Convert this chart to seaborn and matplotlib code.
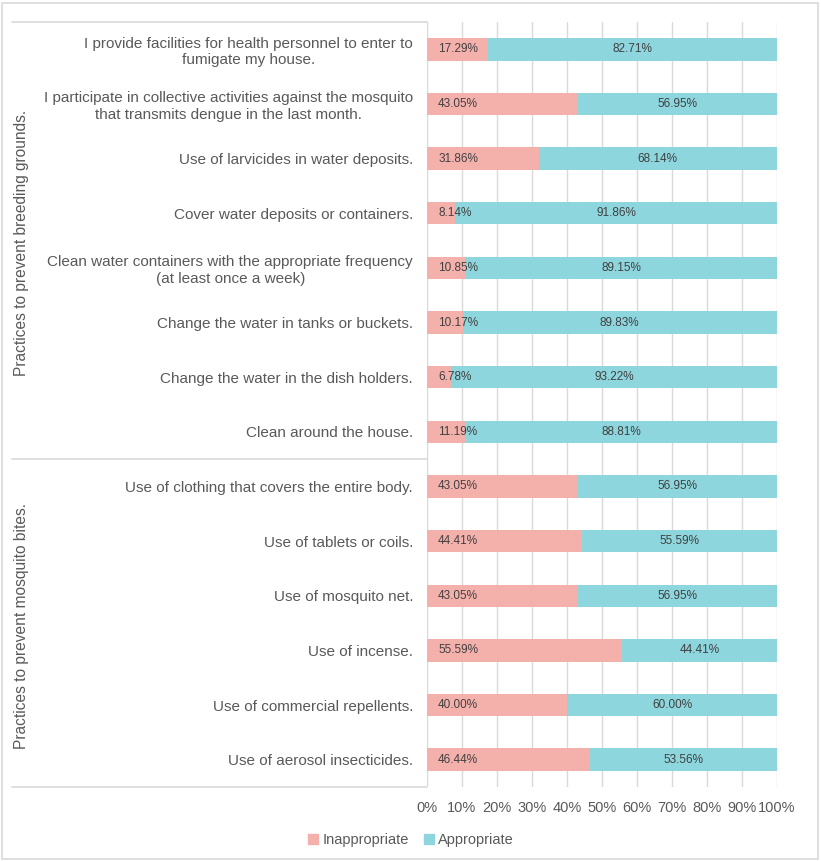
import numpy as np
import pandas as pd
import matplotlib
matplotlib.use("Agg")
import matplotlib.pyplot as plt
import matplotlib.transforms as mtransforms
from matplotlib.patches import Patch, Rectangle
import seaborn as sns

categories = [
    "I provide facilities for health personnel to enter to\nfumigate my house.",
    "I participate in collective activities against the mosquito\nthat transmits dengue in the last month.",
    "Use of larvicides in water deposits.",
    "Cover water deposits or containers.",
    "Clean water containers with the appropriate frequency\n(at least once a week)",
    "Change the water in tanks or buckets.",
    "Change the water in the dish holders.",
    "Clean around the house.",
    "Use of clothing that covers the entire body.",
    "Use of tablets or coils.",
    "Use of mosquito net.",
    "Use of incense.",
    "Use of commercial repellents.",
    "Use of aerosol insecticides.",
]
inappropriate = [17.29, 43.05, 31.86, 8.14, 10.85, 10.17, 6.78, 11.19,
                 43.05, 44.41, 43.05, 55.59, 40.00, 46.44]
appropriate = [82.71, 56.95, 68.14, 91.86, 89.15, 89.83, 93.22, 88.81,
               56.95, 55.59, 56.95, 44.41, 60.00, 53.56]
groups = ["Practices to prevent breeding grounds.",
          "Practices to prevent mosquito bites."]
group_sizes = [8, 6]
x_ticks = list(range(0, 101, 10))

PINK = "#F4B1AC"
TEAL = "#8ED6DD"
GREY = "#D9D9D9"
TEXT = "#595959"

sns.set_style("white")
plt.rcParams["font.family"] = ["Liberation Sans", "DejaVu Sans"]

df = pd.DataFrame({
    "practice": categories,
    "Inappropriate": inappropriate,
    "Appropriate": appropriate,
})
df["total"] = df["Inappropriate"] + df["Appropriate"]

W, H = 821, 861
fig = plt.figure(figsize=(W / 100, H / 100), dpi=100)
ax = fig.add_axes([427 / W, 1 - 787 / H, 350 / W, 765 / H])

# stacked bars: full bar in teal, inappropriate share drawn over it
sns.barplot(data=df, x="total", y="practice", orient="h", color=TEAL,
            width=0.41, saturation=1, linewidth=0, ax=ax, zorder=2)
sns.barplot(data=df, x="Inappropriate", y="practice", orient="h", color=PINK,
            width=0.41, saturation=1, linewidth=0, ax=ax, zorder=3)

# data labels
for i, (a, b) in enumerate(zip(df["Inappropriate"], df["Appropriate"])):
    ax.annotate(f"{a:.2f}%", (0, i), xytext=(8, 0), textcoords="offset points",
                ha="left", va="center", fontsize=8.5, color="#404040", zorder=4)
    ax.text(a + b / 2, i, f"{b:.2f}%", ha="center", va="center",
            fontsize=8.5, color="#404040", zorder=4)

ax.set_xlim(0, 100)
ax.set_ylim(len(categories) - 0.5, -0.5)
ax.set_xticks(x_ticks)
ax.set_xticklabels([f"{v}%" for v in x_ticks], fontsize=10.5, color=TEXT)
ax.tick_params(axis="x", length=0, pad=10)
ax.tick_params(axis="y", length=0, pad=10)
for lab in ax.get_yticklabels():
    lab.set_fontsize(11)
    lab.set_color(TEXT)
    lab.set_multialignment("center")
ax.set_xlabel("")
ax.set_ylabel("")
ax.grid(axis="x", color=GREY, linewidth=1, zorder=0)
ax.set_axisbelow(True)
for s in ax.spines.values():
    s.set_visible(False)

# left-hand table lines and group labels
trans = mtransforms.blended_transform_factory(fig.transFigure, ax.transData)
edges = [-0.5]
for n in group_sizes:
    edges.append(edges[-1] + n)
for y in edges:
    ax.plot([12 / W, 427 / W], [y, y], color=GREY, linewidth=1.2,
            transform=trans, clip_on=False)
for g, (lo, hi) in zip(groups, zip(edges[:-1], edges[1:])):
    ax.text(22 / W, (lo + hi) / 2 + 0.05, g, rotation=90, ha="center",
            va="center", fontsize=11.2, color=TEXT, transform=trans)

handles = [Patch(color=PINK, label="Inappropriate"),
           Patch(color=TEAL, label="Appropriate")]
leg = fig.legend(handles=handles, loc="center", ncol=2,
                 bbox_to_anchor=(411 / W, 1 - 840 / H), frameon=False,
                 fontsize=10.5, handlelength=0.7, handleheight=0.7,
                 handletextpad=0.3, columnspacing=1.0)
for t in leg.get_texts():
    t.set_color(TEXT)

fig.add_artist(Rectangle((2 / W, 2 / H), 816 / W, 856 / H, fill=False,
                         edgecolor=GREY, linewidth=1.2,
                         transform=fig.transFigure))

fig.savefig("out.png", dpi=100)
plt.close(fig)
